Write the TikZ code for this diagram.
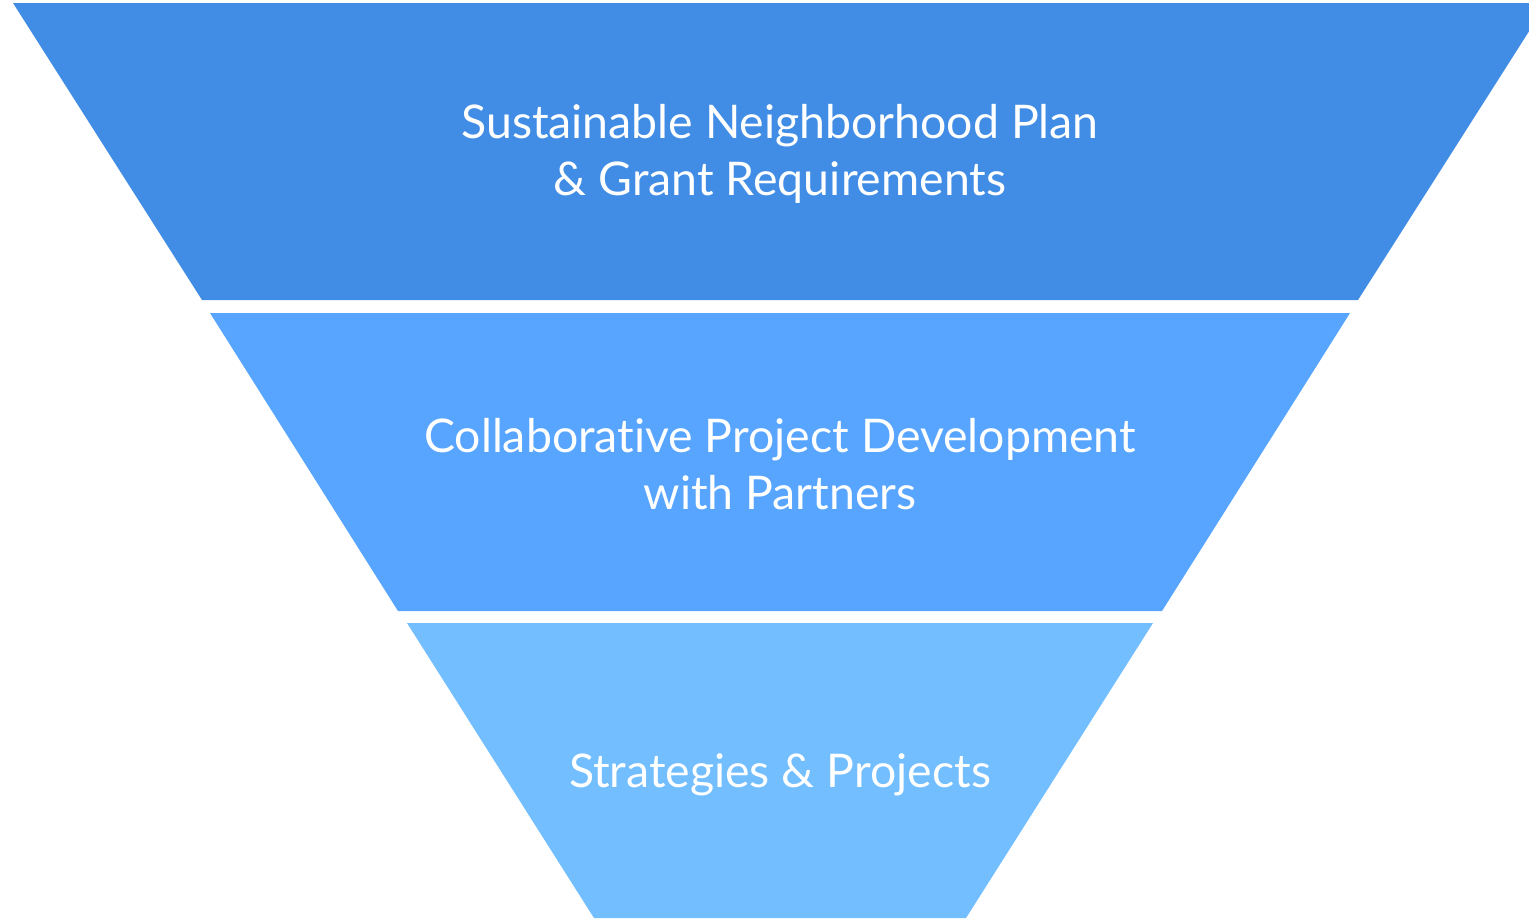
\documentclass[tikz,border=0pt]{standalone}
\usepackage{fontspec}
\setmainfont[Ligatures={NoCommon,NoRare}]{Lato}
\definecolor{tierA}{RGB}{65,141,230}
\definecolor{tierB}{RGB}{87,165,255}
\definecolor{tierC}{RGB}{114,190,255}
\tikzset{
  tier/.style={draw=none},
  label/.style={text=white, align=center, font=\fontsize{23.2}{28.5}\selectfont, inner sep=0pt}
}
\begin{document}
\begin{tikzpicture}[x=0.5pt,y=-0.5pt]
\useasboundingbox (0,0) rectangle (1529,918);
\clip (0,0) rectangle (1529,918);
\fill[tierA,tier] (13,3) -- (1547,3) -- (1358,300) -- (202,300) -- cycle;
\fill[tierB,tier] (210,313) -- (1350,313) -- (1162,611) -- (398,611) -- cycle;
\fill[tierC,tier] (407,623) -- (1153,623) -- (966,918) -- (594,918) -- cycle;
\node[label] (t1) at (780,154) {Sustainable Neighborhood Plan\\\& Grant Requirements};
\node[label] (t2) at (780,464) {Collaborative Project Development\\with Partners};
\node[label] (t3) at (780,775) {Strategies \& Projects};
\end{tikzpicture}
\end{document}
